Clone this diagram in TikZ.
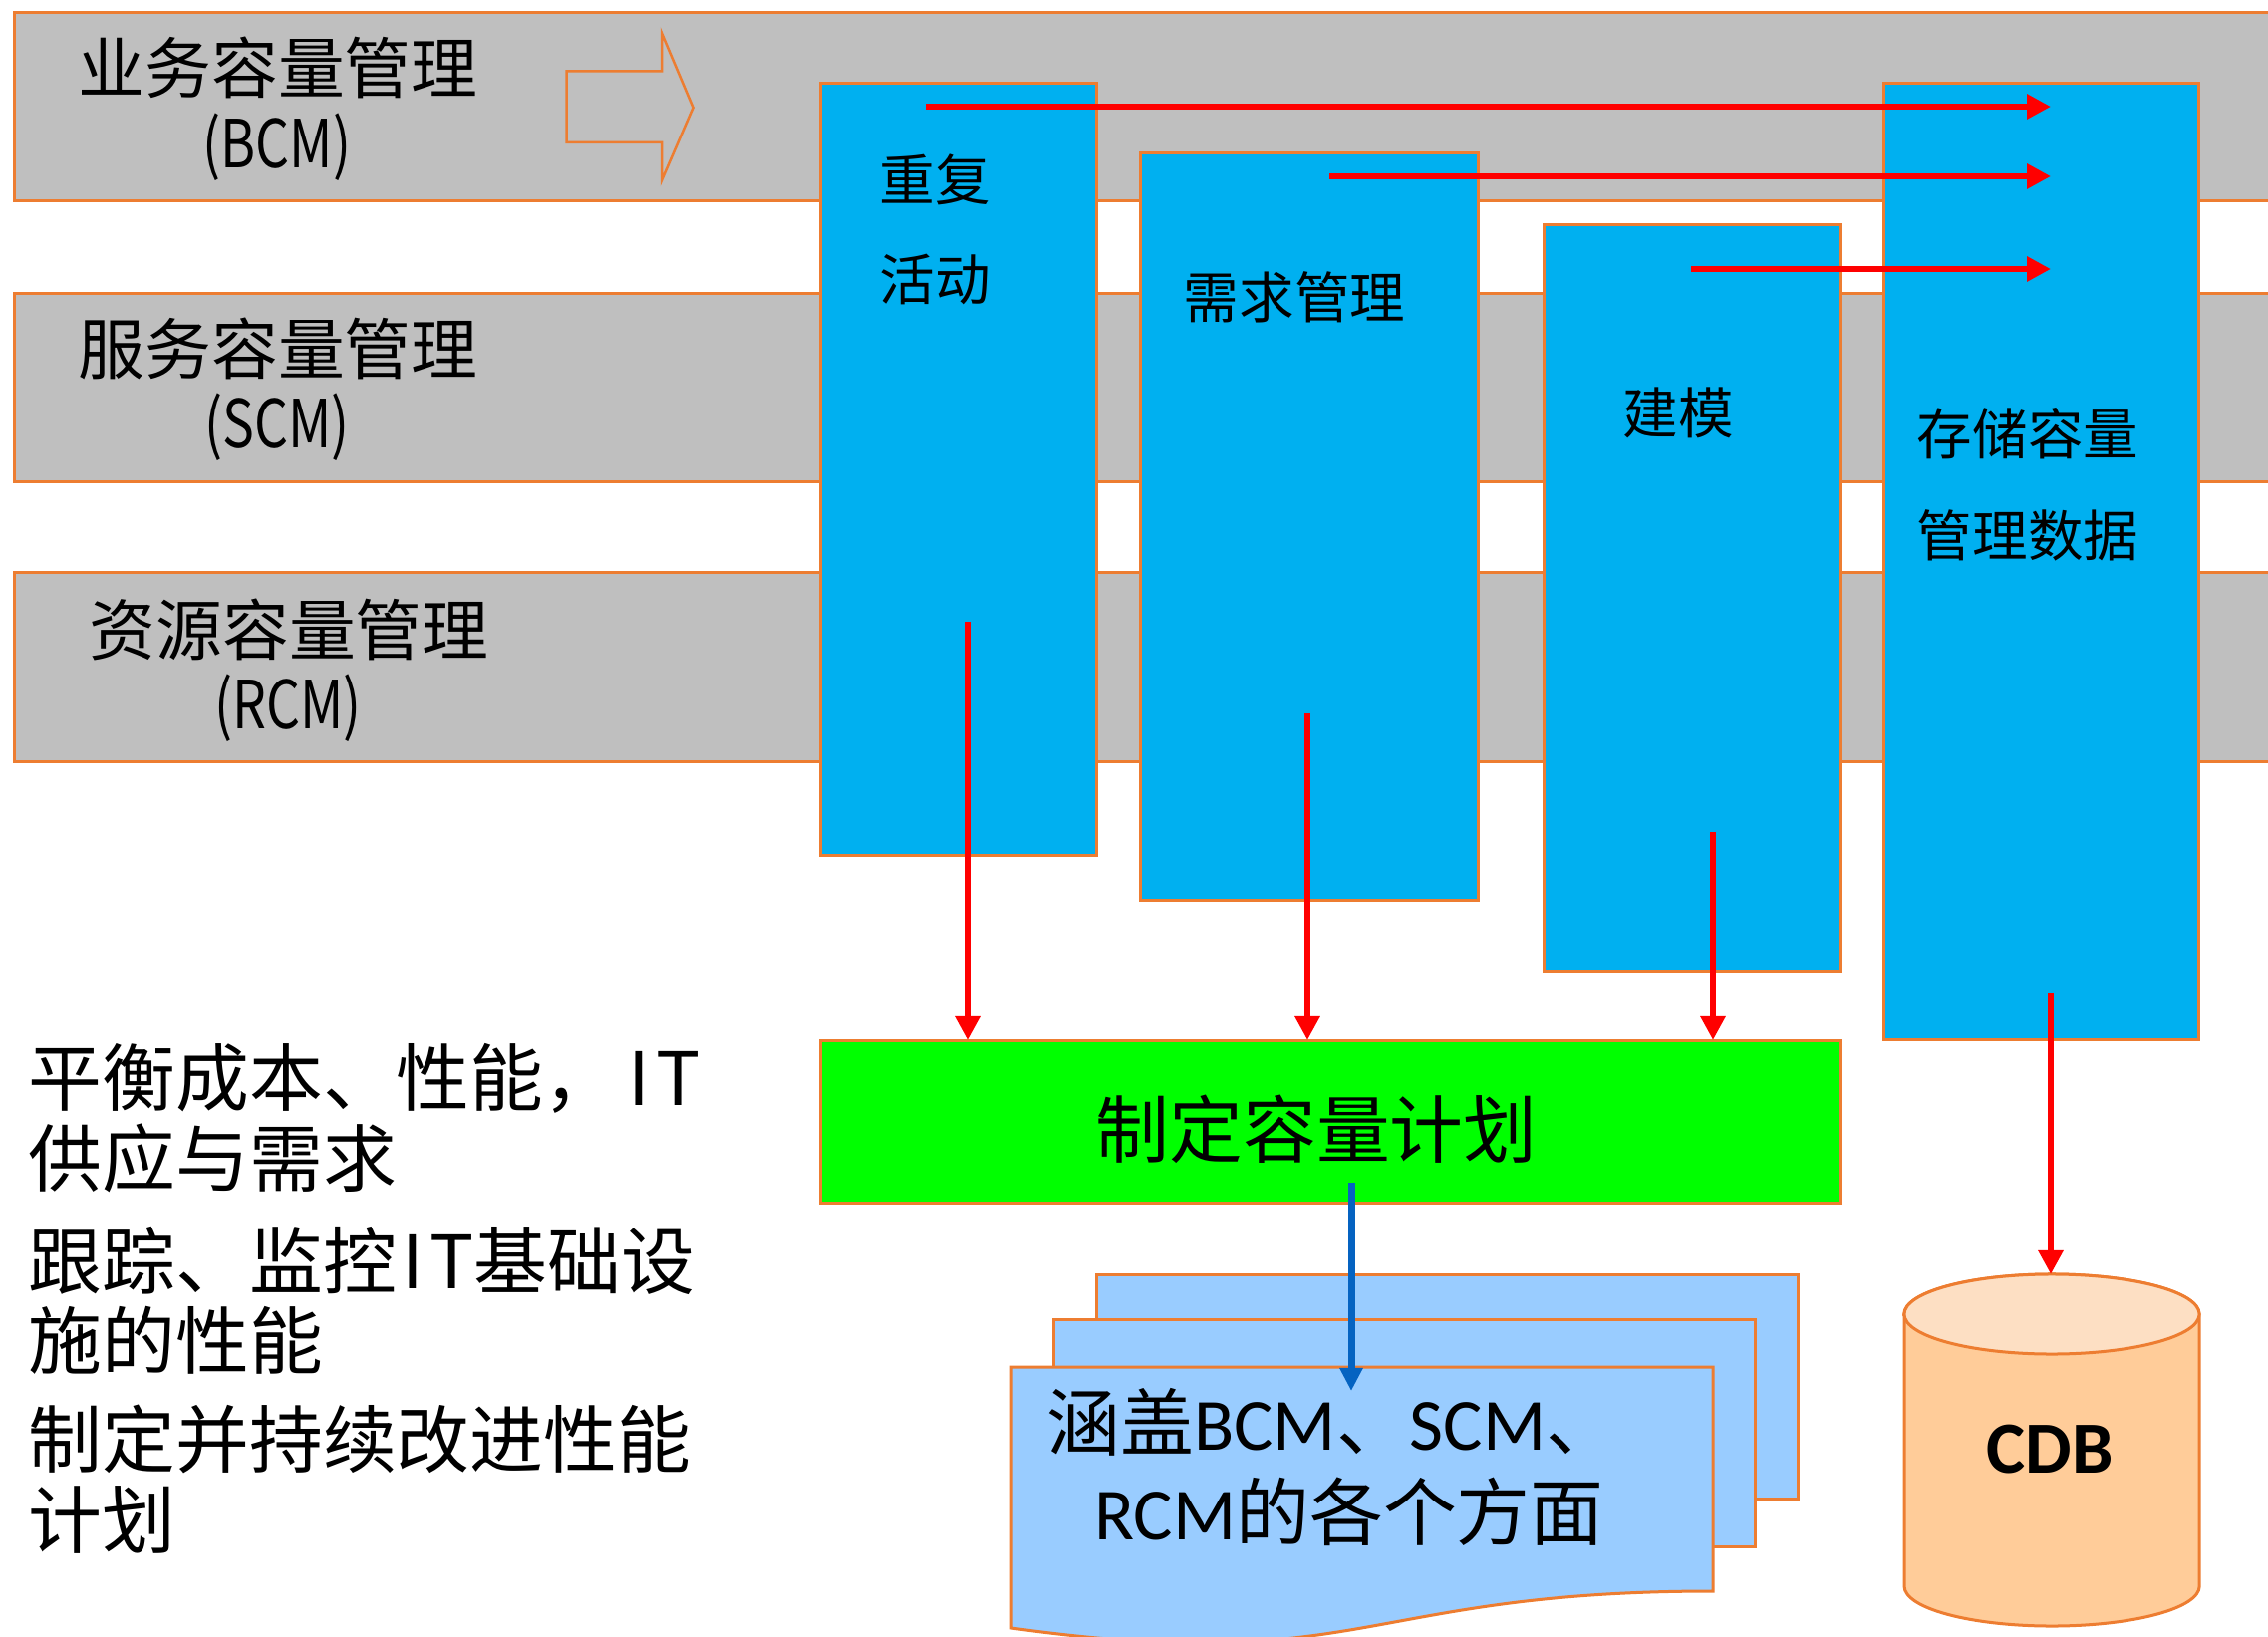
\documentclass[tikz,border=0pt]{standalone}
\usepackage{fontspec}
\setmainfont{Noto Sans CJK SC}
\newfontfamily\cdbfont{Carlito}
\usetikzlibrary{arrows.meta}
\definecolor{bandgray}{HTML}{BFBFBF}
\definecolor{edgeorange}{HTML}{ED7D31}
\definecolor{boxblue}{HTML}{00B0F0}
\definecolor{plangreen}{HTML}{00FF00}
\definecolor{docblue}{HTML}{99CCFF}
\definecolor{cylbody}{HTML}{FFCC99}
\definecolor{cyltopc}{HTML}{FDDFC3}
\definecolor{arrowred}{HTML}{FF0000}
\definecolor{arrowblue}{HTML}{0563C1}
\begin{document}
\begin{tikzpicture}[x=0.01cm, y=-0.01cm,
  band/.style={draw=edgeorange, fill=bandgray, line width=0.03cm, anchor=north west, inner sep=0, outer sep=0, minimum width=23cm, minimum height=1.89cm},
  bluebox/.style={draw=edgeorange, fill=boxblue, line width=0.03cm, anchor=north west, inner sep=0, outer sep=0},
  bandtext/.style={inner sep=0, font=\fontsize{19}{22}\selectfont},
  abbrtext/.style={inner sep=0, xscale=0.8, font=\fontsize{19}{22}\selectfont},
  boxtext/.style={inner sep=0, font=\fontsize{15.8}{18}\selectfont},
  lefttext/.style={inner sep=0, anchor=west, font=\fontsize{21}{24}\selectfont},
  bigtext/.style={inner sep=0, font=\fontsize{21}{24}\selectfont},
  redarrow/.style={draw=arrowred, line width=0.065cm, -{Triangle[width=0.24cm,length=0.24cm]}},
  bluearrow/.style={draw=arrowblue, line width=0.07cm, -{Triangle[width=0.22cm,length=0.23cm]}},
  sheet/.style={draw=edgeorange, fill=docblue, line width=0.03cm},
]
\useasboundingbox (0,0) rectangle (2276,1643);
\clip (0,0) rectangle (2276,1643);

% bands
\node[band] (bcm) at (14.5,12.5) {};
\node[band] (scm) at (14.5,294.5) {};
\node[band] (rcm) at (14.5,575) {};

\node[bandtext] (bcm1) at (279,67.5) {业务容量管理};
\node[abbrtext] (bcm2) at (278,148) {(BCM)};
\node[bandtext] (scm1) at (279,349.5) {服务容量管理};
\node[abbrtext] (scm2) at (278,428.5) {(SCM)};
\node[bandtext] (rcm1) at (290,631.5) {资源容量管理};
\node[abbrtext] (rcm2) at (289,710.5) {(RCM)};

% hollow block arrow
\draw[draw=edgeorange, line width=0.025cm, line join=miter]
  (568.6,71.4) -- (664,71.4) -- (664,33.2) -- (695.5,108) -- (664,181) -- (664,142.9) -- (568.6,142.9) -- cycle;

% blue boxes
\node[bluebox, minimum width=2.77cm, minimum height=7.74cm] (rep) at (823,84) {};
\node[bluebox, minimum width=3.395cm, minimum height=7.49cm] (dem) at (1144,154) {};
\node[bluebox, minimum width=2.976cm, minimum height=7.49cm] (mod) at (1549,226) {};
\node[bluebox, minimum width=3.164cm, minimum height=9.594cm] (cdata) at (1890,84) {};

\node[boxtext, anchor=west] (rep1) at (882,180) {重复};
\node[boxtext, anchor=west] (rep2) at (882,280) {活动};
\node[boxtext] (dem1) at (1299,298) {需求管理};
\node[boxtext] (mod1) at (1684,414) {建模};
\node[boxtext] (cd1) at (2035,435.5) {存储容量};
\node[boxtext] (cd2) at (2035,537) {管理数据};

% green plan box
\node[draw=edgeorange, fill=plangreen, line width=0.03cm, anchor=north west, inner sep=0, outer sep=0, minimum width=10.23cm, minimum height=1.63cm] (plan) at (823,1044) {};
\node[bigtext] (plantext) at (1321,1133) {制定容量计划};

% horizontal red arrows
\coordinate (h1s) at (929,107);  \coordinate (h1e) at (2058,107);
\coordinate (h2s) at (1334,177); \coordinate (h2e) at (2058,177);
\coordinate (h3s) at (1697,270); \coordinate (h3e) at (2058,270);
\draw[redarrow] (h1s) -- (h1e);
\draw[redarrow] (h2s) -- (h2e);
\draw[redarrow] (h3s) -- (h3e);

% vertical red arrows
\coordinate (v1s) at (971,624);
\coordinate (v2s) at (1312,716);
\coordinate (v3s) at (1719,835);
\coordinate (v4s) at (2058,997);
\draw[redarrow] (v1s) -- (v1s |- plan.north);
\draw[redarrow] (v2s) -- (v2s |- plan.north);
\draw[redarrow] (v3s) -- (v3s |- plan.north);

% document stack
\draw[sheet] (1100,1279) rectangle (1804,1504);
\draw[sheet] (1057,1324) rectangle (1761,1552);
\draw[sheet] (1015,1372) -- (1719,1372) -- (1719,1597)
  .. controls (1367,1597) and (1367,1683) .. (1015,1634) -- cycle;
\node[bigtext] (doc1) at (1338,1427) {涵盖{\cdbfont BCM}、{\cdbfont SCM}、};
\node[bigtext] (doc2) at (1354,1517) {{\cdbfont RCM}的各个方面};

% blue arrow
\coordinate (bs) at (1356,1187);
\coordinate (be) at (1356,1396);
\draw[bluearrow] (bs) -- (be);

% cylinder
\draw[draw=edgeorange, fill=cylbody, line width=0.03cm]
  (1911,1319) -- (1911,1592) arc[start angle=180, end angle=360, x radius=1.48cm, y radius=0.4cm]
  -- (2207,1319) arc[start angle=0, end angle=180, x radius=1.48cm, y radius=0.4cm] -- cycle;
\draw[draw=edgeorange, fill=cyltopc, line width=0.03cm] (2059,1319) ellipse [x radius=1.48cm, y radius=0.4cm];
\coordinate (cyltop) at (2058,1279);
\node[inner sep=0, font=\cdbfont\bfseries\fontsize{21}{24}\selectfont] (cdb) at (2057,1455) {CDB};
\draw[redarrow] (v4s) -- (cyltop);

% left text
\node[lefttext] (l1) at (28,1082) {平衡成本、性能，\hspace{0.15em}I\hspace{0.08em}T};
\node[lefttext] (l2) at (28,1162) {供应与需求};
\node[lefttext] (l3) at (28,1265) {跟踪、监控\hspace{0.08em}I\hspace{0.08em}T基础设};
\node[lefttext] (l4) at (28,1345) {施的性能};
\node[lefttext] (l5) at (28,1444) {制定并持续改进性能};
\node[lefttext] (l6) at (28,1525) {计划};
\end{tikzpicture}
\end{document}
